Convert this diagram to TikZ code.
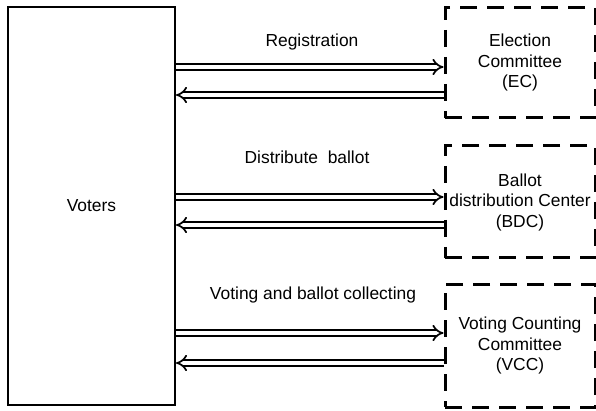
\documentclass[tikz,border=0pt]{standalone}
\usepackage{fontspec}
\setmainfont{Liberation Sans}
\usetikzlibrary{arrows.meta}
\begin{document}
\begin{tikzpicture}[x=1pt,y=-1pt,
  every node/.style={font=\fontsize{17.4}{20.5}\selectfont},
  solidbox/.style={draw, line width=2pt, inner sep=0pt},
  dashbox/.style={draw, line width=3pt, dash pattern=on 17pt off 10pt, inner sep=0pt, align=center},
  dblarrow/.style={double, double distance=3.8pt, line width=1.7pt, -{Implies}},
  lbl/.style={inner sep=0pt}]
\useasboundingbox (0,0) rectangle (596,411);
\node[solidbox, minimum width=167pt, minimum height=398pt] (voters) at (91.5,206) {Voters};
\node[dashbox, minimum width=150pt, minimum height=110pt] (ec) at (520,63) {Election\\Committee\\(EC)};
\node[dashbox, minimum width=150pt, minimum height=112pt] (bdc) at (520,202) {Ballot\\distribution Center\\(BDC)};
\node[dashbox, minimum width=150pt, minimum height=123pt] (vcc) at (520,345.5) {Voting Counting\\Committee\\(VCC)};
\node[lbl] (l1) at (312,42) {Registration};
\node[lbl] (l2) at (307,157) {Distribute\ \ ballot};
\node[lbl] (l3) at (313,295) {Voting and ballot collecting};
\draw[dblarrow] (voters.east |- 0,67) -- (ec.west |- 0,67);
\draw[dblarrow] (ec.west |- 0,95) -- (voters.east |- 0,95);
\draw[dblarrow] (voters.east |- 0,197) -- (bdc.west |- 0,197);
\draw[dblarrow] (bdc.west |- 0,225) -- (voters.east |- 0,225);
\draw[dblarrow] (voters.east |- 0,333) -- (vcc.west |- 0,333);
\draw[dblarrow] (vcc.west |- 0,363) -- (voters.east |- 0,363);
\end{tikzpicture}
\end{document}
